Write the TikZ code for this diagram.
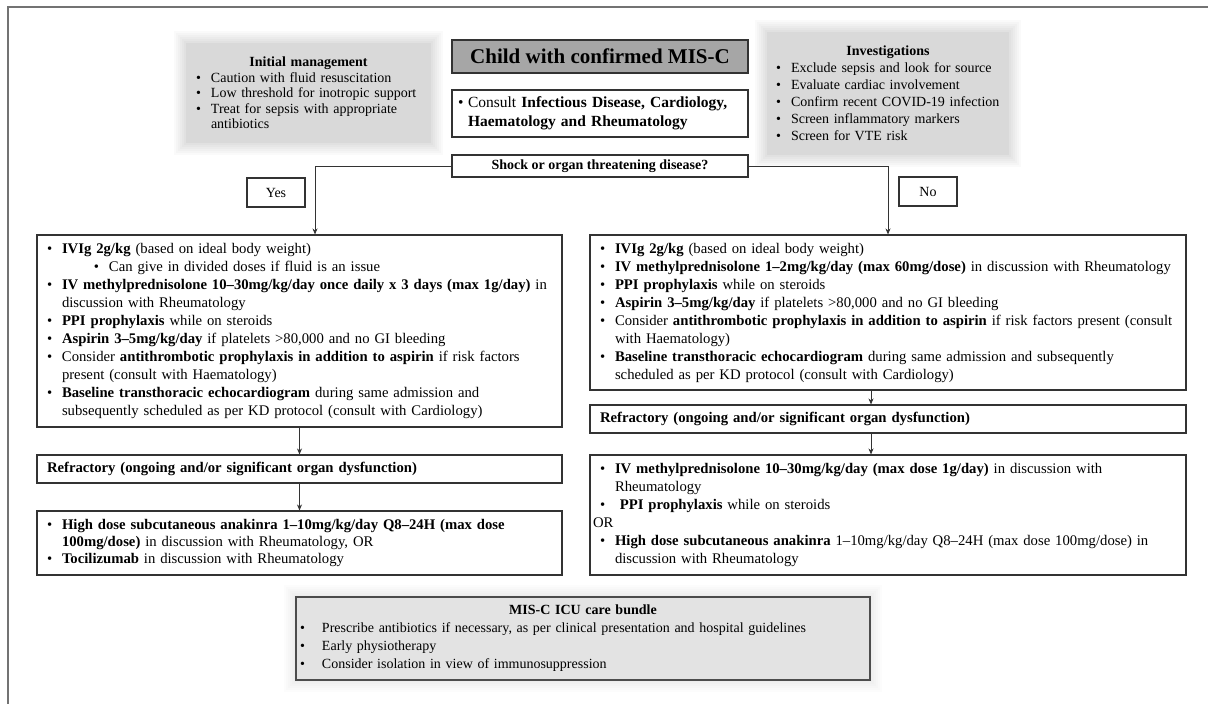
\documentclass[tikz,border=0pt]{standalone}
\usepackage{fontspec}
\setmainfont{Liberation Serif}
\usetikzlibrary{arrows.meta}
\definecolor{softgray}{HTML}{D9D9D9}
\definecolor{childgray}{HTML}{A6A6A6}
\definecolor{icugray}{HTML}{E3E3E3}
\definecolor{edgecol}{HTML}{333333}
\newcommand{\bl}[1]{\mbox{\makebox[15pt][l]{\textbullet}#1}}
\newcommand{\cl}[1]{\mbox{\hspace*{15pt}#1}}
\begin{document}
\begin{tikzpicture}[x=1pt,y=-1pt,
  box/.style={draw=edgecol, line width=1.1pt, inner sep=0pt, align=left},
  mainfont/.style={font=\fontsize{14.7}{18}\selectfont},
  sidefont/.style={font=\fontsize{14}{15.5}\selectfont},
  arr/.style={draw=black!80, line width=0.8pt, -{Stealth[length=6pt,width=5pt]}},
  plain/.style={draw=black!80, line width=0.8pt}]
\useasboundingbox (0,0) rectangle (1208,704);
\fill[white] (0,0) rectangle (1208,704);
% outer frame
\draw[black!55, line width=1.5pt] (8,704) -- (8,7) -- (1208,7);
% soft halos of grey side boxes
\foreach \e in {1,...,6}{
  \fill[black, opacity=0.018] ({186-2*\e},{43-2*\e}) rectangle ({431+2*\e},{143+2*\e});
  \fill[black, opacity=0.018] ({767-2*\e},{32-2*\e}) rectangle ({1009+2*\e},{155+2*\e});
  \fill[black, opacity=0.012] ({296-2*\e},{597-2*\e}) rectangle ({870+2*\e},{680+2*\e});
}
% initial management
\node[fill=softgray, inner sep=0pt, align=left, sidefont, minimum width=245, minimum height=100, text width=225pt] (init) at (308.5,93)
 {\makebox[225pt][c]{\textbf{Initial management}}\\
  \bl{Caution with fluid resuscitation}\\
  \bl{Low threshold for inotropic support}\\
  \bl{Treat for sepsis with appropriate}\\
  \cl{antibiotics}};
% investigations
\node[fill=softgray, inner sep=0pt, align=left, font=\fontsize{14}{17}\selectfont, minimum width=242, minimum height=123, text width=224pt] (inv) at (888,93.5)
 {\makebox[224pt][c]{\textbf{Investigations}}\\
  \bl{Exclude sepsis and look for source}\\
  \bl{Evaluate cardiac involvement}\\
  \bl{Confirm recent COVID-19 infection}\\
  \bl{Screen inflammatory markers}\\
  \bl{Screen for VTE risk}};
% centre column
\node[box, fill=childgray, align=center, font=\fontsize{21}{24}\selectfont\bfseries, minimum width=296, minimum height=33] (child) at (600,56.5) {Child with confirmed MIS-C};
\node[box, font=\fontsize{15.5}{19}\selectfont, minimum width=296, minimum height=47, text width=284pt] (consult) at (600,113.5)
 {\mbox{\makebox[10pt][l]{\textbullet}Consult \textbf{Infectious Disease, Cardiology,}}\\
  \mbox{\hspace*{10pt}\textbf{Haematology and Rheumatology}}};
\node[box, align=center, font=\fontsize{14}{16}\selectfont\bfseries, minimum width=296, minimum height=22] (shock) at (600,166) {Shock or organ threatening disease?};
\node[box, align=center, font=\fontsize{14}{16}\selectfont, minimum width=58, minimum height=29] (yes) at (276,192.5) {Yes};
\node[box, align=center, font=\fontsize{14}{16}\selectfont, minimum width=58, minimum height=29] (no) at (928,191.5) {No};
% left column
\node[box, mainfont, minimum width=525, minimum height=192, text width=505pt] (L1) at (299.5,331)
 {\bl{\textbf{IVIg 2g/kg} (based on ideal body weight)}\\
  \mbox{\hspace*{47pt}\makebox[15pt][l]{\textbullet}Can give in divided doses if fluid is an issue}\\
  \bl{\textbf{IV methylprednisolone 10–30mg/kg/day once daily x 3 days (max 1g/day)} in}\\
  \cl{discussion with Rheumatology}\\
  \bl{\textbf{PPI prophylaxis} while on steroids}\\
  \bl{\textbf{Aspirin 3–5mg/kg/day} if platelets >80,000 and no GI bleeding}\\
  \bl{Consider \textbf{antithrombotic prophylaxis in addition to aspirin} if risk factors}\\
  \cl{present (consult with Haematology)}\\
  \bl{\textbf{Baseline transthoracic echocardiogram} during same admission and}\\
  \cl{subsequently scheduled as per KD protocol (consult with Cardiology)}};
\node[box, mainfont, minimum width=525, minimum height=28, text width=505pt] (L2) at (299.5,469)
 {\textbf{Refractory (ongoing and/or significant organ dysfunction)}};
\node[box, font=\fontsize{14.7}{17}\selectfont, minimum width=525, minimum height=64, text width=505pt] (L3) at (299.5,543)
 {\bl{\textbf{High dose subcutaneous anakinra 1–10mg/kg/day Q8–24H (max dose}}\\
  \cl{\textbf{100mg/dose)} in discussion with Rheumatology, OR}\\
  \bl{\textbf{Tocilizumab} in discussion with Rheumatology}};
% right column
\node[box, mainfont, minimum width=596, minimum height=155, text width=576pt] (R1) at (888,312.5)
 {\bl{\textbf{IVIg 2g/kg} (based on ideal body weight)}\\
  \bl{\textbf{IV methylprednisolone 1–2mg/kg/day (max 60mg/dose)} in discussion with Rheumatology}\\
  \bl{\textbf{PPI prophylaxis} while on steroids}\\
  \bl{\textbf{Aspirin 3–5mg/kg/day} if platelets >80,000 and no GI bleeding}\\
  \bl{Consider \textbf{antithrombotic prophylaxis in addition to aspirin} if risk factors present (consult}\\
  \cl{with Haematology)}\\
  \bl{\textbf{Baseline transthoracic echocardiogram} during same admission and subsequently}\\
  \cl{scheduled as per KD protocol (consult with Cardiology)}};
\node[box, mainfont, minimum width=596, minimum height=28, text width=576pt] (R2) at (888,419)
 {\textbf{Refractory (ongoing and/or significant organ dysfunction)}};
\node[box, mainfont, minimum width=596, minimum height=120, text width=576pt] (R3) at (888,515)
 {\bl{\textbf{IV methylprednisolone 10–30mg/kg/day (max dose 1g/day)} in discussion with}\\
  \cl{Rheumatology}\\
  \bl{\ \textbf{PPI prophylaxis} while on steroids}\\
  \mbox{\hspace*{-7pt}OR}\\
  \bl{\textbf{High dose subcutaneous anakinra} 1–10mg/kg/day Q8–24H (max dose 100mg/dose) in}\\
  \cl{discussion with Rheumatology}};
% ICU bundle
\node[draw=black!70, line width=1.1pt, fill=icugray, inner sep=0pt, align=left, font=\fontsize{14}{18}\selectfont, minimum width=574, minimum height=83, text width=566pt] (icu) at (583,638.5)
 {\makebox[566pt][c]{\textbf{MIS-C ICU care bundle}}\\
  \mbox{\makebox[22pt][l]{\textbullet}Prescribe antibiotics if necessary, as per clinical presentation and hospital guidelines}\\
  \mbox{\makebox[22pt][l]{\textbullet}Early physiotherapy}\\
  \mbox{\makebox[22pt][l]{\textbullet}Consider isolation in view of immunosuppression}};
% connectors
\draw[arr] (shock.west) -| ([xshift=15.5pt]L1.north);
\draw[arr] (shock.east) -| (R1.north);
\draw[arr] (L1.south) -- (L2.north);
\draw[arr] (L2.south) -- (L3.north);
\draw[arr] ([xshift=-17pt]R1.south) -- ([xshift=-17pt]R2.north);
\draw[arr] ([xshift=-17pt]R2.south) -- ([xshift=-17pt]R3.north);
\end{tikzpicture}
\end{document}
